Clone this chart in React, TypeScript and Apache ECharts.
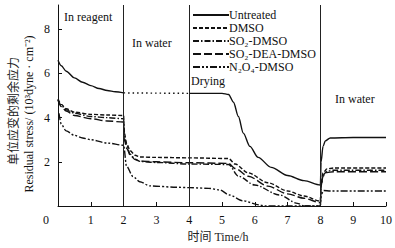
import React, { useEffect, useRef } from "react";
import * as echarts from "echarts";

type P = [number, number | null];

const seriesNames = ["Untreated", "DMSO", "SO₂-DMSO", "SO₂-DEA-DMSO", "N₂O₄-DMSO"];
const phaseLines = [2, 4, 8];

const untreated: P[] = [
  [0, 6.6], [0.1, 6.35], [0.25, 6.1], [0.5, 5.8], [0.75, 5.6], [1, 5.45], [1.25, 5.32], [1.5, 5.23], [1.75, 5.17], [2, 5.12],
  [3, null],
  [4, 5.1], [5, 5.1], [5.2, 5.05], [5.35, 4.7], [5.5, 4.05], [5.65, 3.3], [5.85, 2.7], [6.1, 2.2], [6.5, 1.75], [7, 1.38], [7.5, 1.15], [8, 0.95],
  [8.02, 2.0], [8.08, 2.7], [8.15, 2.95], [8.3, 3.08], [9, 3.1], [10, 3.1],
];
const untreatedWater: P[] = [[2, 5.12], [4, 5.1]];

const dmso: P[] = [
  [0, 4.85], [0.1, 4.6], [0.25, 4.4], [0.5, 4.25], [1, 4.15], [1.5, 4.12], [2, 4.1],
  [2.02, 3.3], [2.1, 2.8], [2.2, 2.5], [2.35, 2.3], [2.5, 2.22], [3, 2.2], [4, 2.18],
  [5.2, 2.15], [5.4, 1.9], [5.8, 1.5], [6.4, 1.05], [7, 0.68], [7.5, 0.45], [8, 0.22],
  [8.02, 1.0], [8.08, 1.5], [8.2, 1.68], [8.4, 1.72], [10, 1.72],
];
const so2dmso: P[] = [
  [0, 4.8], [0.1, 4.55], [0.25, 4.35], [0.5, 4.2], [1, 4.05], [1.5, 4.0], [2, 3.95],
  [2.02, 3.1], [2.1, 2.7], [2.2, 2.35], [2.35, 2.12], [2.5, 2.02], [3, 1.97], [4, 1.9],
  [5.2, 1.88], [5.5, 1.35], [6, 0.95], [6.75, 0.5], [7.3, 0.12], [7.5, 0.0], [8, 0.0],
  [8.02, 0.9], [8.08, 1.4], [8.2, 1.58], [8.4, 1.62], [10, 1.62],
];
const so2deadmso: P[] = [
  [0, 4.8], [0.1, 4.5], [0.25, 4.3], [0.5, 4.1], [1, 3.95], [1.5, 3.85], [2, 3.8],
  [2.02, 3.0], [2.1, 2.6], [2.2, 2.3], [2.35, 2.1], [2.5, 2.03], [3, 2.0], [4, 1.96],
  [5.2, 1.93], [5.4, 1.7], [5.8, 1.35], [6.4, 0.9], [7, 0.55], [7.5, 0.35], [8, 0.15],
  [8.02, 0.9], [8.08, 1.35], [8.2, 1.52], [8.4, 1.55], [10, 1.55],
];
const n2o4dmso: P[] = [
  [0.03, 4.2], [0.1, 3.7], [0.25, 3.4], [0.5, 3.2], [0.75, 3.08], [1, 3.0], [1.5, 2.85], [2, 2.75],
  [2.09, 1.8], [2.29, 1.33], [2.49, 1.1], [2.8, 0.91], [3.6, 0.85], [4, 0.83],
  [4.6, 0.8], [4.92, 0.73], [5.23, 0.5], [5.63, 0.24], [6.14, 0.05], [6.3, 0.0], [8, 0.0],
  [8.02, 0.5], [8.1, 0.7], [8.3, 0.68], [10, 0.68],
];

const serif = "'Liberation Serif', 'Times New Roman', serif";
const cjk = "'Noto Sans CJK SC', sans-serif";

export default function App() {
  const ref = useRef<HTMLDivElement>(null);
  useEffect(() => {
    if (!ref.current) return;
    const chart = echarts.init(ref.current, null, { renderer: "svg" });
    const mk = (name: string, data: P[], dash: any, extra: any = {}) => ({
      name,
      type: "line",
      data,
      showSymbol: false,
      symbol: "none",
      smooth: 0.3,
      smoothMonotone: "x",
      connectNulls: false,
      lineStyle: { color: "#111", width: 1.4, type: dash },
      itemStyle: { color: "#111" },
      ...extra,
    });
    chart.setOption({
      animation: false,
      backgroundColor: "#fff",
      grid: { left: 58, right: 8, top: 5, bottom: 42 },
      legend: {
        data: seriesNames,
        orient: "vertical",
        left: 192,
        top: 9,
        padding: 0,
        itemWidth: 36,
        itemHeight: 10,
        itemGap: 1,
        itemStyle: { opacity: 0 },
        textStyle: { fontFamily: serif, fontSize: 12, color: "#111", padding: [0, 0, 0, -5] },
      },
      xAxis: {
        type: "value",
        min: 0,
        max: 10,
        interval: 1,
        axisLine: { lineStyle: { color: "#111", width: 1 } },
        axisTick: { inside: true, length: 4, lineStyle: { color: "#111" } },
        splitLine: { show: false },
        axisLabel: {
          margin: 8,
          fontFamily: serif,
          fontSize: 12,
          color: "#111",
          formatter: (v: number) => (v === 0 ? "{z|0}" : String(v)),
          rich: { z: { padding: [0, 24, 0, 0], fontFamily: serif, fontSize: 12, color: "#111" } },
        },
      },
      yAxis: {
        type: "value",
        min: 0,
        max: 9.1,
        interval: 2,
        axisLine: { show: true, lineStyle: { color: "#111", width: 1 } },
        axisTick: { show: true, inside: true, length: 4, lineStyle: { color: "#111" } },
        splitLine: { show: false },
        axisLabel: {
          margin: 8,
          fontFamily: serif,
          fontSize: 12,
          color: "#111",
          showMaxLabel: false,
          formatter: (v: number) => (v === 0 || v > 9 ? "" : String(v)),
        },
      },
      graphic: [
        { type: "text", left: 64, top: 11, style: { text: "In reagent", font: `12px ${serif}`, fill: "#111" } },
        { type: "text", left: 132, top: 37, style: { text: "In water", font: `12px ${serif}`, fill: "#111" } },
        { type: "text", left: 191, top: 75, style: { text: "Drying", font: `12px ${serif}`, fill: "#111" } },
        { type: "text", left: 335, top: 93, style: { text: "In water", font: `12px ${serif}`, fill: "#111" } },
        {
          type: "text", x: 12, y: 111, rotation: Math.PI / 2,
          style: { text: "单位应变的剩余应力", font: `12px ${cjk}`, fill: "#222", align: "center", verticalAlign: "middle" },
        },
        {
          type: "text", x: 29, y: 114, rotation: Math.PI / 2,
          style: { text: "Residual stress/ (10³dyne · cm⁻²)", font: `12px ${serif}`, fill: "#111", align: "center", verticalAlign: "middle" },
        },
        {
          type: "text", x: 218, y: 237,
          style: { text: "时间 Time/h", font: `12px ${serif}, ${cjk}`, fill: "#222", align: "center", verticalAlign: "middle" },
        },
      ],
      series: [
        mk(seriesNames[0], untreated, "solid", {
          markLine: {
            silent: true,
            symbol: "none",
            label: { show: false },
            lineStyle: { color: "#222", width: 1, type: "solid" },
            data: phaseLines.map((x) => ({ xAxis: x })),
          },
        }),
        mk(seriesNames[1], dmso, [4, 2]),
        mk(seriesNames[2], so2dmso, [6, 2, 1.5, 2]),
        mk(seriesNames[3], so2deadmso, [8, 3]),
        mk(seriesNames[4], n2o4dmso, [7, 2, 2, 2, 2, 2]),
        mk("untreated-water", untreatedWater, [1.5, 3], { smooth: false }),
      ],
    });
    return () => chart.dispose();
  }, []);
  return <div ref={ref} style={{ width: 395, height: 248, position: "absolute", left: 0, top: 0 }} />;
}
